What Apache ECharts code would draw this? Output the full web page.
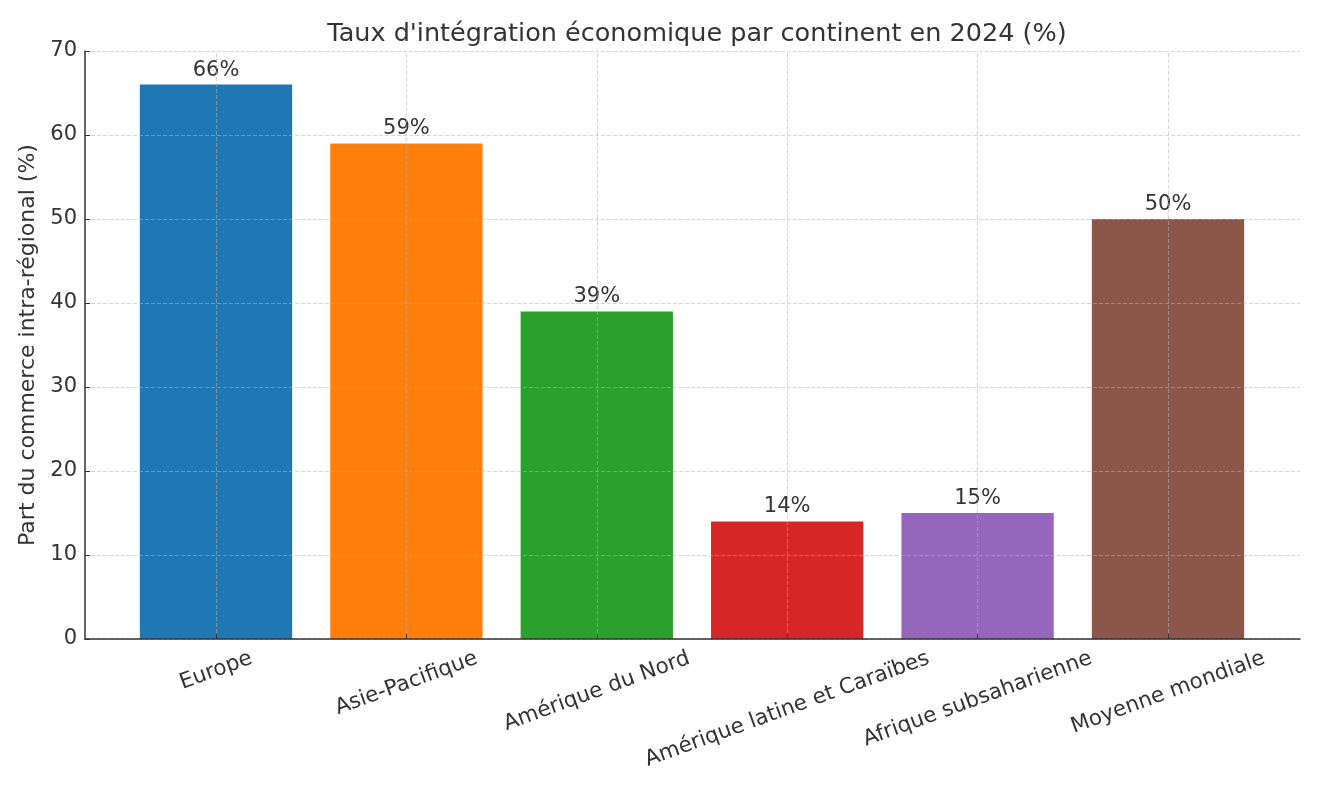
<!DOCTYPE html>
<html>
<head>
<meta charset="utf-8">
<script src="https://cdn.jsdelivr.net/npm/echarts@6/dist/echarts.min.js"></script>
<style>html,body{margin:0;padding:0;background:#fff}#c{width:1320px;height:792px}</style>
</head>
<body>
<div id="c"></div>
<script>
const categories = ['Europe', 'Asie-Pacifique', 'Amérique du Nord', 'Amérique latine et Caraïbes', 'Afrique subsaharienne', 'Moyenne mondiale'];
const values = [66, 59, 39, 14, 15, 50];
const colors = ['#1f77b4', '#ff7f0e', '#2ca02c', '#d62728', '#9467bd', '#8c564b'];
const yTicks = { min: 0, max: 70, interval: 10 };

const FONT = '"DejaVu Sans", sans-serif';
const labelSize = 21.5;
const rot = 20 * Math.PI / 180;
const ctx = document.createElement('canvas').getContext('2d');
ctx.font = labelSize + 'px "DejaVu Sans"';
const pad = 7;
const h = labelSize * 1.17;
const catData = categories.map(function (c) {
  const w = ctx.measureText(c).width;
  const D = pad + (w * Math.sin(rot) + h * Math.cos(rot)) / 2;
  return {
    value: c,
    textStyle: {
      align: 'center', verticalAlign: 'top', lineHeight: labelSize,
      padding: [Math.max(0, D * Math.cos(rot) - labelSize / 2), 2 * D * Math.sin(rot), 0, 0]
    }
  };
});

const gridColor = 'rgba(176,176,176,0.55)';
const chart = echarts.init(document.getElementById('c'), null, { renderer: 'canvas' });
chart.setOption({
  animation: false,
  title: {
    text: "Taux d'intégration économique par continent en 2024 (%)",
    left: 692, top: 16, textAlign: 'center',
    textStyle: { fontFamily: FONT, fontSize: 25.5, fontWeight: 'normal', color: '#333' }
  },
  grid: [
    { left: 120.8, right: 56.8, top: 51, bottom: 153 },
    { left: 85, right: 20, top: 51, bottom: 153 }
  ],
  xAxis: [
    {
      type: 'category', gridIndex: 0, data: catData, z: 5,
      axisLine: { show: false },
      axisTick: { show: true, alignWithLabel: true, inside: true, length: 5, lineStyle: { color: '#333' } },
      axisLabel: {
        interval: 0, rotate: 20, margin: 0,
        fontFamily: FONT, fontSize: labelSize, color: '#333'
      },
      splitLine: { show: false }
    },
    {
      type: 'value', gridIndex: 1, min: 0, max: 1, z: 5,
      axisLine: { show: true, lineStyle: { color: '#333', width: 1.5 } },
      axisTick: { show: false }, axisLabel: { show: false }, splitLine: { show: false }
    }
  ],
  yAxis: [
    { type: 'value', gridIndex: 0, min: yTicks.min, max: yTicks.max, interval: yTicks.interval, show: false },
    {
      type: 'value', gridIndex: 1, min: yTicks.min, max: yTicks.max, interval: yTicks.interval, z: 5,
      name: 'Part du commerce intra-régional (%)', nameLocation: 'middle', nameGap: 45,
      nameTextStyle: { fontFamily: FONT, fontSize: 22, color: '#333' },
      axisLine: { show: true, lineStyle: { color: '#333', width: 1.5 } },
      axisTick: { show: true, inside: true, length: 5, lineStyle: { color: '#333' } },
      axisLabel: { fontFamily: FONT, fontSize: 21, color: '#333', margin: 8 },
      splitLine: { show: true, lineStyle: { color: gridColor, type: [4, 2], width: 1 } }
    }
  ],
  series: [{
    type: 'bar', xAxisIndex: 0, yAxisIndex: 0,
    barWidth: '80%',
    data: values.map(function (v, i) { return { value: v, itemStyle: { color: colors[i] } }; }),
    label: {
      show: true, position: 'top', distance: 4,
      formatter: function (p) { return p.value + '%'; },
      fontFamily: FONT, fontSize: 21, color: '#333'
    },
    markLine: {
      silent: true, symbol: 'none', label: { show: false },
      lineStyle: { color: gridColor, type: [4, 2], width: 1 },
      data: categories.map(function (c) { return { xAxis: c }; })
    }
  }]
});
</script>
</body>
</html>
